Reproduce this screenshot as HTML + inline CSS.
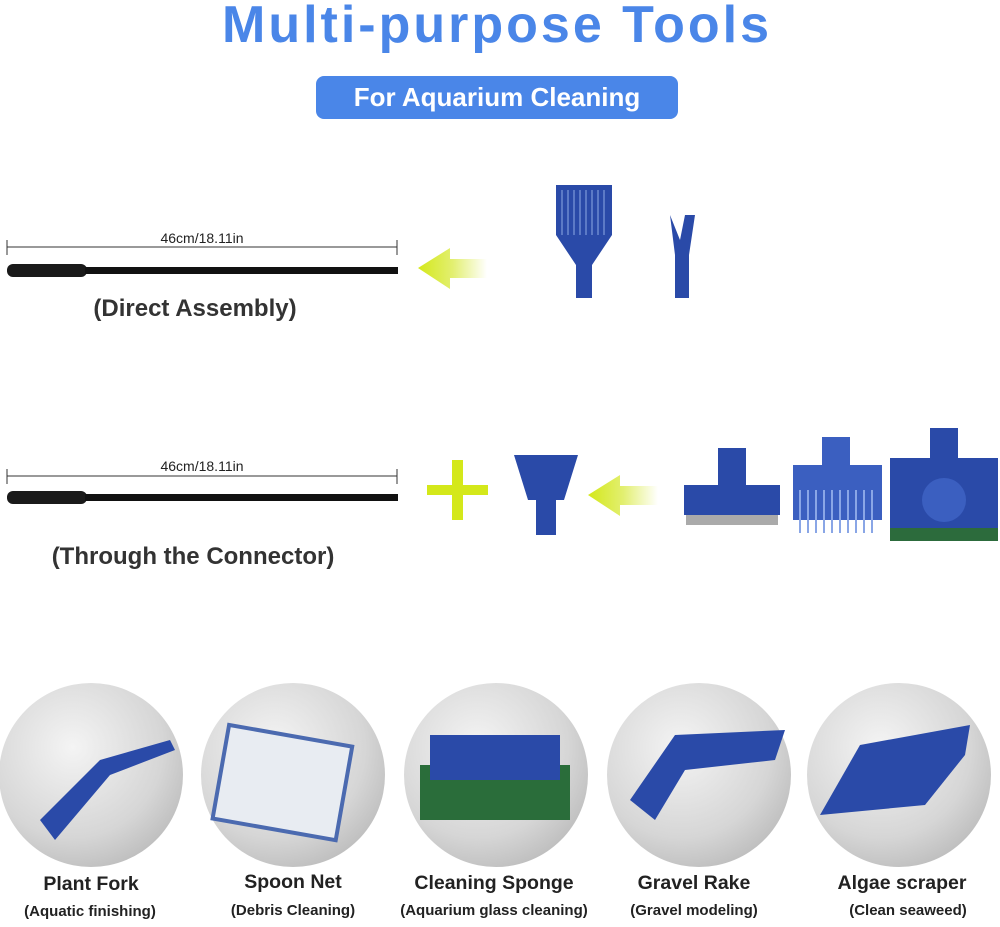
<!DOCTYPE html>
<html><head><meta charset="utf-8"><style>
body{margin:0;width:1000px;height:922px;background:#fff;overflow:hidden;font-family:"Liberation Sans",sans-serif}
</style></head><body>
<svg width="1000" height="922" viewBox="0 0 1000 922" xmlns="http://www.w3.org/2000/svg" font-family="Liberation Sans, sans-serif">
<defs>
<linearGradient id="ar" x1="0" x2="1"><stop offset="0" stop-color="#d4e81a"/><stop offset="0.5" stop-color="#e2ef70"/><stop offset="1" stop-color="#fff"/></linearGradient>
<radialGradient id="cg" cx="0.4" cy="0.35" r="0.7"><stop offset="0" stop-color="#f4f4f4"/><stop offset="0.7" stop-color="#d6d6d6"/><stop offset="1" stop-color="#bdbdbd"/></radialGradient>
</defs>
<text x="497" y="42" text-anchor="middle" font-size="52" font-weight="bold" fill="#4a86e8" letter-spacing="3">Multi-purpose Tools</text>
<rect x="316" y="76" width="362" height="43" rx="8" fill="#4a86e8"/>
<text x="497" y="106" text-anchor="middle" font-size="26" font-weight="bold" fill="#fff">For Aquarium Cleaning</text>

<line x1="7" y1="247" x2="397" y2="247" stroke="#333" stroke-width="1"/>
<line x1="7" y1="240" x2="7" y2="255" stroke="#333"/><line x1="397" y1="240" x2="397" y2="255" stroke="#333"/>
<text x="202" y="243" text-anchor="middle" font-size="14" fill="#222">46cm/18.11in</text>
<rect x="7" y="264" width="80" height="13" rx="6" fill="#1a1a1a"/>
<rect x="85" y="267" width="313" height="7" fill="#111"/>
<polygon points="418,268 450,248 450,259 487,259 487,278 450,278 450,289" fill="url(#ar)"/>
<text x="195" y="316" text-anchor="middle" font-size="24" font-weight="bold" fill="#333">(Direct Assembly)</text>
<g fill="#2a4aa8">
<path d="M556,185 h56 v50 l-20,30 v33 h-16 v-33 l-20,-30z"/>
<path d="M670,215 l10,25 l5,-25 l10,0 l-6,40 v43 h-14 v-43z"/>
</g>
<g stroke="#6c8ad0" stroke-width="1.5"><path d="M562,190v45M568,190v45M574,190v45M580,190v45M586,190v45M592,190v45M598,190v45M604,190v45"/></g>

<line x1="7" y1="476" x2="397" y2="476" stroke="#333"/>
<line x1="7" y1="469" x2="7" y2="484" stroke="#333"/><line x1="397" y1="469" x2="397" y2="484" stroke="#333"/>
<text x="202" y="471" text-anchor="middle" font-size="14" fill="#222">46cm/18.11in</text>
<rect x="7" y="491" width="80" height="13" rx="6" fill="#1a1a1a"/>
<rect x="85" y="494" width="313" height="7" fill="#111"/>
<rect x="427" y="485" width="61" height="10" fill="#d4e81a"/><rect x="452" y="460" width="11" height="60" fill="#d4e81a"/>
<path d="M514,455 h64 l-14,45 h-8 v35 h-20 v-35 h-8z" fill="#2a4aa8"/>
<polygon points="588,495 620,475 620,486 658,486 658,505 620,505 620,516" fill="url(#ar)"/>
<text x="193" y="564" text-anchor="middle" font-size="24" font-weight="bold" fill="#333">(Through the Connector)</text>
<path d="M684,485 h96 v30 h-96z M718,448 h28 v37 h-28z" fill="#2a4aa8"/>
<rect x="686" y="515" width="92" height="10" fill="#aaa"/>
<path d="M793,465 h89 v55 h-89z M822,437 h28 v28 h-28z" fill="#3b5fc0"/>
<g stroke="#8aa6e6" stroke-width="2"><path d="M800,490v43M808,490v43M816,490v43M824,490v43M832,490v43M840,490v43M848,490v43M856,490v43M864,490v43M872,490v43"/></g>
<rect x="890" y="458" width="108" height="83" fill="#2c6b3c"/>
<rect x="890" y="458" width="108" height="70" fill="#2a4aa8"/>
<rect x="930" y="428" width="28" height="35" fill="#2a4aa8"/>
<circle cx="944" cy="500" r="22" fill="#3b5fc0"/>

<g fill="url(#cg)">
<circle cx="91" cy="775" r="92"/><circle cx="293" cy="775" r="92"/><circle cx="496" cy="775" r="92"/><circle cx="699" cy="775" r="92"/><circle cx="899" cy="775" r="92"/>
</g>
<path d="M40,820 l60,-60 l70,-20 l5,10 l-65,25 l-55,65z" fill="#2a4aa8"/>
<rect x="220" y="735" width="125" height="95" fill="#e8ecf2" stroke="#4b6ab0" stroke-width="4" transform="rotate(10 282 782)"/>
<rect x="420" y="765" width="150" height="55" fill="#2a6d3a"/><rect x="430" y="735" width="130" height="45" fill="#2a4aa8"/>
<path d="M630,800 l45,-65 l110,-5 l-10,30 l-90,10 l-30,50z" fill="#2a4aa8"/>
<path d="M820,815 l40,-70 l110,-20 l-5,30 l-40,50z" fill="#2a4aa8"/>

<g font-weight="bold" font-size="19.5" fill="#222" text-anchor="middle">
<text x="91" y="890">Plant Fork</text><text x="293" y="888">Spoon Net</text><text x="494" y="889">Cleaning Sponge</text><text x="694" y="889">Gravel Rake</text><text x="902" y="889">Algae scraper</text>
</g>
<g font-size="15" font-weight="bold" fill="#222" text-anchor="middle">
<text x="90" y="916">(Aquatic finishing)</text><text x="293" y="915">(Debris Cleaning)</text><text x="494" y="915">(Aquarium glass cleaning)</text><text x="694" y="915">(Gravel modeling)</text><text x="908" y="915">(Clean seaweed)</text>
</g>
</svg>
</body></html>
